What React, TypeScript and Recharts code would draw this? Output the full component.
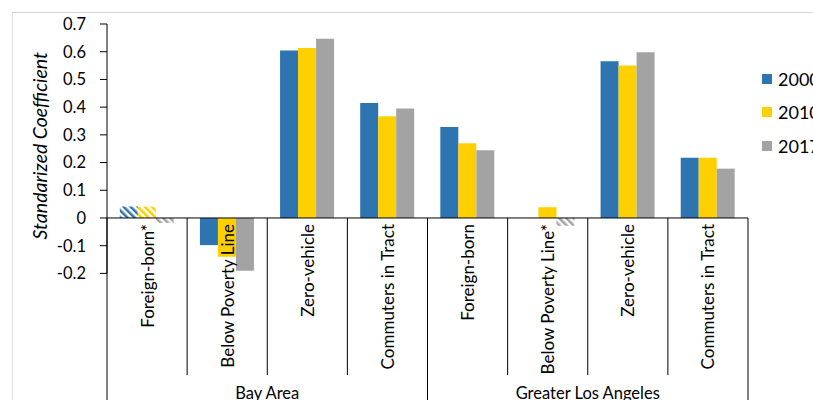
import { Bar, BarChart, Cell, Legend, ReferenceLine, XAxis, YAxis } from 'recharts';

const categories = [
  'Foreign-born*',
  'Below Poverty Line',
  'Zero-vehicle',
  'Commuters in Tract',
  'Foreign-born',
  'Below Poverty Line*',
  'Zero-vehicle',
  'Commuters in Tract',
];
const groups = ['Bay Area', 'Greater Los Angeles'];
const v2000 = [0.041, -0.098, 0.604, 0.415, 0.328, 0, 0.566, 0.217];
const v2010 = [0.041, -0.14, 0.613, 0.367, 0.27, 0.039, 0.55, 0.217];
const v2017 = [-0.018, -0.19, 0.647, 0.395, 0.244, -0.028, 0.598, 0.178];
// * = not significant, drawn hatched
const hatch2000 = [true, false, false, false, false, false, false, false];
const hatch2010 = [true, false, false, false, false, false, false, false];
const hatch2017 = [true, false, false, false, false, true, false, false];
const yTicks = [-0.2, -0.1, 0, 0.1, 0.2, 0.3, 0.4, 0.5, 0.6, 0.7];

const data = categories.map((cat, i) => ({
  key: `${i}`,
  cat,
  y2000: v2000[i],
  y2010: v2010[i],
  y2017: v2017[i],
}));

const W = 813;
const H = 400;
const M = { top: 24, right: 65, left: 0, bottom: 0 };
const Y_AXIS_W = 107;
const X_AXIS_H = 126.6;
const Y_MIN = -0.2;
const Y_MAX = 0.7;
const PLOT_W = W - M.right - M.left - Y_AXIS_W;
const PLOT_H = H - M.top - M.bottom - X_AXIS_H;
const ZERO_Y = M.top + (PLOT_H * Y_MAX) / (Y_MAX - Y_MIN);
const BAND = PLOT_W / categories.length;
const FONT = 'Lato, "Open Sans", sans-serif';

const BLUE = '#2e74b0';
const YELLOW = '#ffd000';
const GRAY = '#a3a3a3';

function CategoryTick(props: any) {
  const { x, index } = props;
  const i = index as number;
  const left = x - BAND / 2;
  const perGroup = categories.length / groups.length;
  const groupStart = i % perGroup === 0;
  const isLast = i === categories.length - 1;
  return (
    <g>
      <line x1={left} x2={left} y1={ZERO_Y} y2={groupStart ? H : 375} stroke="#000" />
      {isLast && <line x1={left + BAND} x2={left + BAND} y1={ZERO_Y} y2={H} stroke="#000" />}
      <text
        x={x}
        y={ZERO_Y + 6}
        transform={`rotate(-90 ${x} ${ZERO_Y + 6})`}
        textAnchor="end"
        dominantBaseline="central"
        fontFamily={FONT}
        fontSize={17}
        fill="#000"
      >
        {categories[i]}
      </text>
      {i % perGroup === perGroup / 2 && (
        <text x={left} y={393} textAnchor="middle" dominantBaseline="central" fontFamily={FONT} fontSize={16.5} fill="#000">
          {groups[Math.floor(i / perGroup)]}
        </text>
      )}
    </g>
  );
}

function YLabel(props: any) {
  const vb = props.viewBox || { x: 0, y: M.top, width: Y_AXIS_W, height: PLOT_H };
  const cx = vb.x + 40;
  const cy = vb.y + vb.height / 2 - 3;
  return (
    <text
      x={cx}
      y={cy}
      transform={`rotate(-90 ${cx} ${cy})`}
      textAnchor="middle"
      dominantBaseline="central"
      fontFamily={FONT}
      fontStyle="italic"
      fontSize={19.5}
      fill="#000"
    >
      Standarized Coefficient
    </text>
  );
}

function LegendBox(props: any) {
  const items = props.payload || [];
  return (
    <div style={{ fontFamily: FONT, fontSize: 18, color: '#000' }}>
      {items.map((it: any) => (
        <div key={it.value} style={{ display: 'flex', alignItems: 'center', height: 33.5, whiteSpace: 'nowrap' }}>
          <span style={{ width: 10, height: 10, background: it.color, marginRight: 6, display: 'inline-block' }} />
          {it.value}
        </div>
      ))}
    </div>
  );
}

export default function App() {
  const series = [
    { key: 'y2000', name: '2000', color: BLUE, hatch: hatch2000, pat: 'hatchBlue' },
    { key: 'y2010', name: '2010', color: YELLOW, hatch: hatch2010, pat: 'hatchYellow' },
    { key: 'y2017', name: '2017', color: GRAY, hatch: hatch2017, pat: 'hatchGray' },
  ];
  return (
    <div style={{ position: 'absolute', left: 0, top: 0, width: W, height: H, overflow: 'hidden', background: '#fff' }}>
      <div
        style={{
          position: 'absolute',
          left: 12,
          top: 12,
          right: -2,
          bottom: -2,
          borderTop: '1px solid #d4d4d4',
          borderLeft: '1px solid #e4e4e4',
        }}
      />
      <BarChart width={W} height={H} data={data} margin={M} barCategoryGap="16%" barGap={0}>
        <defs>
          {series.map((s) => (
            <pattern
              key={s.pat}
              id={s.pat}
              width={5}
              height={5}
              patternUnits="userSpaceOnUse"
              patternTransform="rotate(-45)"
            >
              <rect width={5} height={5} fill="#fff" />
              <rect width={2.5} height={5} fill={s.color} />
            </pattern>
          ))}
        </defs>
        <XAxis
          dataKey="key"
          height={X_AXIS_H}
          axisLine={false}
          tickLine={false}
          interval={0}
          tick={<CategoryTick />}
        />
        <YAxis
          width={Y_AXIS_W}
          domain={[Y_MIN, Y_MAX]}
          ticks={yTicks}
          interval={0}
          axisLine={{ stroke: '#000' }}
          tickLine={{ stroke: '#000' }}
          tickSize={7}
          tickMargin={14}
          tick={{ fontFamily: FONT, fontSize: 16.5, fill: '#000' }}
          tickFormatter={(v: number) => (v === 0 ? '0' : String(Number(v.toFixed(1))))}
          label={<YLabel />}
        />
        <Legend
          layout="vertical"
          align="center"
          verticalAlign="middle"
          content={<LegendBox />}
          wrapperStyle={{ position: 'absolute', left: 762, top: 62, width: 60 }}
        />
        {series.map((s) => (
          <Bar key={s.key} dataKey={s.key} name={s.name} fill={s.color} isAnimationActive={false}>
            {data.map((d, i) => (
              <Cell key={d.key} fill={s.hatch[i] ? `url(#${s.pat})` : s.color} />
            ))}
          </Bar>
        ))}
        <ReferenceLine y={0} stroke="#000" strokeWidth={1} />
      </BarChart>
    </div>
  );
}
